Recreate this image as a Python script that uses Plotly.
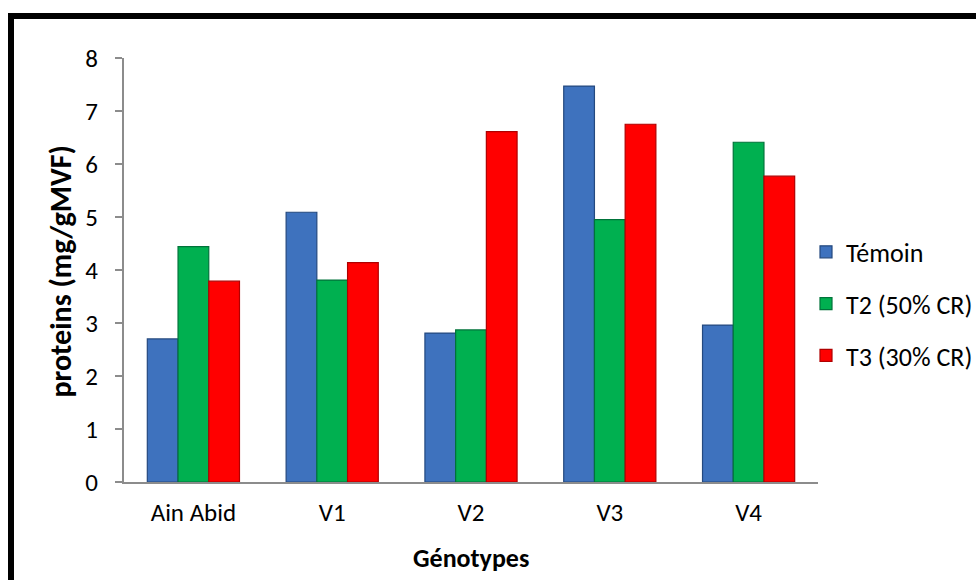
import plotly.graph_objects as go

categories = ["Ain Abid", "V1", "V2", "V3", "V4"]
temoin = [2.70, 5.09, 2.81, 7.47, 2.96]
t2 = [4.44, 3.81, 2.87, 4.95, 6.41]
t3 = [3.79, 4.14, 6.61, 6.75, 5.77]

series = [
    ("Témoin", temoin, "#3E72BE", "#24497F"),
    ("T2 (50% CR)", t2, "#00B050", "#00733A"),
    ("T3 (30% CR)", t3, "#FF0000", "#B00000"),
]

FONT = "Calibri, Carlito, Lato, sans-serif"
FS = 25

fig = go.Figure()
for i, (name, vals, col, edge) in enumerate(series):
    fig.add_trace(go.Bar(
        x=categories, y=vals, name=name,
        marker=dict(color=col, line=dict(color=edge, width=1.2)),
        legendgroup=str(i),
    ))

fig.update_layout(
    width=976, height=580,
    margin=dict(l=124, r=158, t=58, b=98, autoexpand=False),
    paper_bgcolor="white", plot_bgcolor="white",
    barmode="group", bargap=0.336, bargroupgap=0,
    font=dict(family=FONT, size=FS, color="black"),
    showlegend=True,
    legend=dict(x=(806 - 124) / 694, xanchor="left", y=0.42, yanchor="middle",
                font=dict(size=FS + 1), tracegroupgap=15,
                itemwidth=30, bgcolor="rgba(0,0,0,0)"),
    xaxis=dict(showline=True, linecolor="#8C8C8C", linewidth=2, automargin=False,
               ticks="", showgrid=False, tickfont=dict(size=FS),
               ticklabelstandoff=7),
    yaxis=dict(range=[0, 8], dtick=1, showline=True, linecolor="#8C8C8C", linewidth=2,
               automargin=False,
               ticks="outside", ticklen=7, tickcolor="#8C8C8C", tickwidth=2,
               ticklabelstandoff=12, showgrid=False, zeroline=False,
               tickfont=dict(size=FS)),
    annotations=[
        dict(text="<b>Génotypes</b>", xref="paper", yref="paper",
             x=0.5, y=(482 - 558) / 424, xanchor="center", yanchor="middle",
             showarrow=False, font=dict(size=26)),
        dict(text="<b>proteins (mg/gMVF)</b>", xref="paper", yref="paper",
             x=(80 - 124) / 694, y=(482 - 272) / 424, xanchor="right", yanchor="middle",
             textangle=-90, showarrow=False, font=dict(size=30)),
    ],
    shapes=[dict(type="rect", xref="paper", yref="paper",
                 x0=(11 - 124) / 694, x1=1.4, y0=-0.5, y1=(482 - 16) / 424,
                 line=dict(color="black", width=6), fillcolor="rgba(0,0,0,0)",
                 layer="below")],
)

fig.write_html("out.html")
